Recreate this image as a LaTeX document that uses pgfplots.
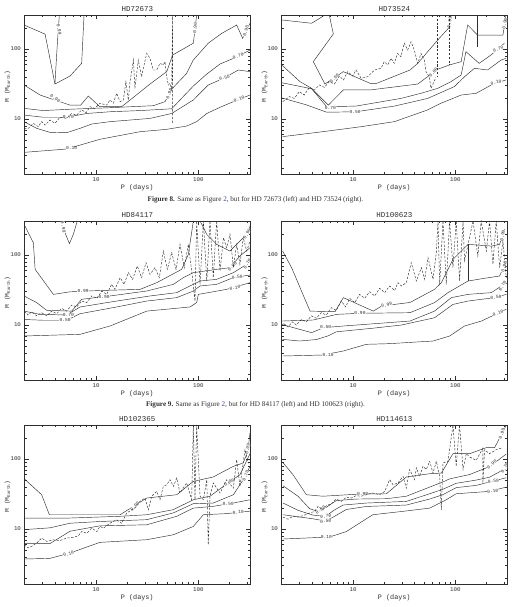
\documentclass[border=0pt]{standalone}
\usepackage{pgfplots}
\pgfplotsset{compat=1.18}
\usepackage{fontspec}
\setmainfont{Liberation Serif}
\newfontfamily\monof{Liberation Mono}
\definecolor{linkblue}{RGB}{45,65,200}
\colorlet{ink}{black!82}
\tikzset{
  cl/.style={line width=0.45pt, color=ink, mark=none, solid},
  dl/.style={line width=0.45pt, color=ink, mark=none, dash pattern=on 2.3pt off 1.5pt},
  lab/.style={font=\monof\fontsize{4.6}{5}\selectfont, text=ink, fill=white, inner sep=0.3pt},
}
\begin{document}
\begin{tikzpicture}
\useasboundingbox (0pt,0pt) rectangle (511pt,-607pt);

% ---------------- HD72673 ----------------
\begin{axis}[xmode=log, ymode=log, scale only axis, width=225.5pt, height=159pt,
    xmin=2, xmax=320, ymin=1.64, ymax=306,
    xtick={10,100}, xticklabels={10,100}, ytick={10,100}, yticklabels={10,100},
    minor xtick={3,4,5,6,7,8,9,20,30,40,50,60,70,80,90,200,300},
    minor ytick={2,3,4,5,6,7,8,9,20,30,40,50,60,70,80,90,200,300},
    xtick pos=both, ytick pos=both, xticklabel pos=lower, yticklabel pos=left,
    tick align=inside, major tick length=4.5pt, minor tick length=2.2pt,
    tick style={line width=0.4pt, color=ink}, axis line style={line width=0.5pt, color=ink},
    tick label style={font=\monof\fontsize{5.8}{6}\selectfont, text=ink},
    xlabel={P (days)}, ylabel={M (M\raisebox{-0.35ex}{\fontsize{4.3}{5}\selectfont Earth})},
    title style={at={(0.5,1)}, anchor=south, inner sep=0pt, yshift=-2.7pt, font=\monof\fontsize{7.5}{8}\selectfont, text=ink},
    xlabel style={at={(0.5,0)}, anchor=north, inner sep=0pt, yshift=-10.5pt, font=\monof\fontsize{6.8}{7}\selectfont, text=ink},
    ylabel style={at={(axis description cs:-0.0754,0.55)}, rotate=0, anchor=center, inner sep=0pt, font=\monof\fontsize{6.2}{7}\selectfont, text=ink},
    at={(24.5pt,-174pt)}, anchor=south west, title={HD72673}]
\addplot[cl] coordinates {(1.98,220) (3.18,163) (3.97,31.6) (5.57,41.1) (7.24,62.4) (7.64,306)};
\addplot[cl] coordinates {(4.38,306) (4.19,121) (3.97,32.3)};
\addplot[cl] coordinates {(1.98,30.6) (2.84,22.0) (5.57,15.8) (7.08,15.8) (8.41,21.3) (10.9,15.0) (17.8,15.0) (23.2,20.4) (33.7,31.6) (49.1,47.5) (56.1,82.0) (89.4,121) (96.3,306)};
\addplot[cl] coordinates {(1.98,14.2) (3.05,13.2) (5.57,13.8) (13.7,14.5) (36.3,15.5) (47.2,17.7) (57.0,28.3) (76.9,44.9) (89.4,69.6) (125,121) (169,167) (237,220) (271,142) (320,233)};
\addplot[cl] coordinates {(1.98,11.4) (3.05,10.6) (5.16,10.6) (8.11,12.0) (13.7,12.7) (26.9,13.2) (54.9,14.0) (66.2,18.7) (89.4,29.6) (121,43.9) (163,61.0) (233,76.0) (320,96.8)};
\addplot[cl] coordinates {(1.98,9.17) (2.63,7.36) (3.55,6.45) (5.16,6.38) (6.98,7.36) (9.08,8.48) (13.7,9.17) (33.7,10.2) (54.9,12.0) (89.4,18.7) (125,30.6) (176,38.1) (246,50.1) (320,47.5)};
\addplot[cl] coordinates {(1.98,3.34) (5.16,3.73) (10.9,5.13) (26.9,6.59) (49.1,7.12) (76.9,7.94) (96.3,9.17) (121,12.0) (163,14.7) (220,17.7) (320,22.0)};
\node[lab,rotate=-80] at (axis cs:4.35,190) {0.99};
\node[lab,rotate=-35] at (axis cs:4.0,19.5) {0.90};
\node[lab] at (axis cs:5.37,10.6) {0.70};
\node[lab] at (axis cs:5.78,3.8) {0.10};
\node[lab,rotate=70] at (axis cs:52,23) {0.90};
\node[lab,rotate=85] at (axis cs:93,200) {0.90};
\node[lab,rotate=75] at (axis cs:292,180) {0.90};
\node[lab,rotate=20] at (axis cs:245,80) {0.70};
\node[lab,rotate=15] at (axis cs:180,39) {0.50};
\node[lab,rotate=20] at (axis cs:250,19) {0.10};
\addplot[dl] coordinates {(1.98,7.36) (2.18,7.36) (2.44,8.67) (2.73,7.77) (2.94,9.17) (3.18,8.2) (3.55,9.68) (3.97,8.67) (4.45,10.6) (5.16,10.2) (5.78,12.0) (6.47,11.4) (7.24,13.5) (8.0,12.3) (8.73,15.0) (9.77,14.2) (10.9,16.8) (12.7,15.8) (13.7,18.7) (14.8,16.8) (15.9,23.3) (17.2,17.7) (18.5,18.7) (19.6,34.2) (20.7,18.7) (21.5,34.2) (23.2,69.6) (24.0,27.4) (25.9,69.6) (27.9,40.2) (29.0,53.0) (31.3,86.7) (33.7,73.6) (36.3,50.1) (39.2,50.1) (42.2,62.4) (45.5,59.1) (47.2,65.9) (49.1,40.2) (50.9,30.6) (52.9,32.3) (54.9,26.0) (56.1,306) (56.1,8.67)};
\end{axis}

% ---------------- HD73524 ----------------
\begin{axis}[xmode=log, ymode=log, scale only axis, width=225.5pt, height=159pt,
    xmin=2, xmax=320, ymin=1.64, ymax=306,
    xtick={10,100}, xticklabels={10,100}, ytick={10,100}, yticklabels={10,100},
    minor xtick={3,4,5,6,7,8,9,20,30,40,50,60,70,80,90,200,300},
    minor ytick={2,3,4,5,6,7,8,9,20,30,40,50,60,70,80,90,200,300},
    xtick pos=both, ytick pos=both, xticklabel pos=lower, yticklabel pos=left,
    tick align=inside, major tick length=4.5pt, minor tick length=2.2pt,
    tick style={line width=0.4pt, color=ink}, axis line style={line width=0.5pt, color=ink},
    tick label style={font=\monof\fontsize{5.8}{6}\selectfont, text=ink},
    xlabel={P (days)}, ylabel={M (M\raisebox{-0.35ex}{\fontsize{4.3}{5}\selectfont Earth})},
    title style={at={(0.5,1)}, anchor=south, inner sep=0pt, yshift=-2.7pt, font=\monof\fontsize{7.5}{8}\selectfont, text=ink},
    xlabel style={at={(0.5,0)}, anchor=north, inner sep=0pt, yshift=-10.5pt, font=\monof\fontsize{6.8}{7}\selectfont, text=ink},
    ylabel style={at={(axis description cs:-0.0754,0.55)}, rotate=0, anchor=center, inner sep=0pt, font=\monof\fontsize{6.2}{7}\selectfont, text=ink},
    at={(281.5pt,-174pt)}, anchor=south west, title={HD73524}]
\addplot[cl] coordinates {(2.0,260) (3.94,233) (5.32,306)};
\addplot[cl] coordinates {(5.86,306) (6.42,164) (4.09,65.9) (5.32,31.6) (8.04,47.5) (14.7,32.3) (17.0,32.3) (36.1,50.1) (42.9,62.4) (67.2,134) (85.4,197) (90.8,306)};
\addplot[cl] coordinates {(2.01,59.2) (3.03,34.2) (3.94,27.4) (5.74,15.8) (8.04,26.0) (14.7,26.0) (36.1,30.6) (42.9,31.6) (67.2,51.3) (87.4,59.1) (114,65.9) (132,220) (165,158) (292,158) (313,306)};
\addplot[cl] coordinates {(165,306) (165,108)};
\addplot[cl] coordinates {(2.01,33.0) (3.94,27.0) (5.53,15.0) (10.7,15.3) (29.4,19.7) (46.2,23.3) (67.2,27.4) (90.8,34.2) (114,42.5) (127,91.6) (171,62.4) (223,82.0) (302,121)};
\addplot[cl] coordinates {(2.01,20.0) (3.47,16.0) (5.53,12.5) (10.7,12.7) (25.4,15.3) (53.7,19.7) (97.7,29.0) (123,40.2) (154,53.0) (207,50.1) (280,69.6) (313,73.6)};
\addplot[cl] coordinates {(2.05,5.60) (5.05,6.59) (12.0,7.77) (25.4,9.17) (53.7,13.5) (72.4,16.8) (114,22.0) (160,23.3) (240,32.3) (313,36.1)};
\node[lab,rotate=45] at (axis cs:6.6,38) {0.99};
\node[lab] at (axis cs:6.0,14.3) {0.70};
\node[lab] at (axis cs:10.5,12.7) {0.50};
\node[lab,rotate=80] at (axis cs:88,240) {0.99};
\node[lab,rotate=50] at (axis cs:61,46) {0.90};
\node[lab,rotate=80] at (axis cs:305,230) {0.90};
\node[lab,rotate=25] at (axis cs:262,100) {0.70};
\node[lab,rotate=15] at (axis cs:250,33.5) {0.10};
\addplot[dl] coordinates {(2.06,17.7) (2.39,20.9) (2.67,19.7) (2.99,24.6) (3.34,22.0) (3.74,28.3) (4.19,26.0) (4.69,30.6) (5.25,28.3) (5.87,34.2) (6.58,31.6) (7.35,41.1) (8.05,36.1) (8.87,47.5) (9.93,41.1) (10.7,50.1) (12.0,38.1) (13.9,40.2) (16.2,50.1) (18.8,53.0) (20.2,65.9) (21.8,59.1) (23.5,73.6) (25.3,62.4) (27.3,86.7) (29.4,77.7) (31.7,121) (34.2,96.8) (36.9,127) (39.7,96.8) (42.9,62.4) (46.2,86.7) (49.8,69.6) (51.7,47.5) (55.7,40.2) (57.8,27.4) (64.7,39.4)};
\addplot[dl] coordinates {(67.2,306) (67.2,39.4)};
\addplot[dl] coordinates {(88.1,306) (88.1,59.1)};
\end{axis}

\node[font=\fontsize{7.15}{9}\selectfont, text=ink] at (255.5pt,-200pt) {\textbf{Figure 8.} Same as Figure \textcolor{linkblue}{2}, but for HD 72673 (left) and HD 73524 (right).};

% ---------------- HD84117 ----------------
\begin{axis}[xmode=log, ymode=log, scale only axis, width=225.5pt, height=159pt,
    xmin=2, xmax=320, ymin=1.64, ymax=306,
    xtick={10,100}, xticklabels={10,100}, ytick={10,100}, yticklabels={10,100},
    minor xtick={3,4,5,6,7,8,9,20,30,40,50,60,70,80,90,200,300},
    minor ytick={2,3,4,5,6,7,8,9,20,30,40,50,60,70,80,90,200,300},
    xtick pos=both, ytick pos=both, xticklabel pos=lower, yticklabel pos=left,
    tick align=inside, major tick length=4.5pt, minor tick length=2.2pt,
    tick style={line width=0.4pt, color=ink}, axis line style={line width=0.5pt, color=ink},
    tick label style={font=\monof\fontsize{5.8}{6}\selectfont, text=ink},
    xlabel={P (days)}, ylabel={M (M\raisebox{-0.35ex}{\fontsize{4.3}{5}\selectfont Earth})},
    title style={at={(0.5,1)}, anchor=south, inner sep=0pt, yshift=-2.7pt, font=\monof\fontsize{7.5}{8}\selectfont, text=ink},
    xlabel style={at={(0.5,0)}, anchor=north, inner sep=0pt, yshift=-10.5pt, font=\monof\fontsize{6.8}{7}\selectfont, text=ink},
    ylabel style={at={(axis description cs:-0.0754,0.55)}, rotate=0, anchor=center, inner sep=0pt, font=\monof\fontsize{6.2}{7}\selectfont, text=ink},
    at={(24.5pt,-380pt)}, anchor=south west, title={HD84117}]
\addplot[cl] coordinates {(4.61,306) (4.98,208) (5.49,145) (6.0,197) (6.56,306)};
\addplot[cl] coordinates {(2.02,259) (2.44,150) (2.54,62.4) (3.83,27.4) (5.57,29.8) (10.9,31.1) (26.9,32.3) (39.2,40.2) (68.8,62.4) (79.9,102) (89.4,306)};
\addplot[cl] coordinates {(104,306) (121,197) (151,142) (204,114) (255,158) (308,208) (320,259)};
\addplot[cl] coordinates {(1.98,26.0) (2.63,20.9) (3.30,16.2) (5.78,15.8) (7.24,23.3) (13.7,26.0) (31.3,30.6) (57.0,38.1) (71.4,47.5) (89.4,55.9) (151,62.4) (204,65.9) (255,96.8) (320,127)};
\addplot[cl] coordinates {(1.98,15.8) (2.84,14.2) (5.16,13.9) (6.98,18.1) (15.9,22.0) (33.7,26.0) (61.5,29.0) (82.9,36.1) (104,42.5) (151,44.9) (220,55.9) (297,73.6) (320,77.7)};
\addplot[cl] coordinates {(1.98,12.0) (3.05,11.7) (5.16,11.7) (6.98,14.5) (15.9,18.1) (31.3,22.0) (61.5,24.6) (89.4,30.6) (104,36.1) (151,38.1) (220,47.5) (320,51.8)};
\addplot[cl] coordinates {(1.98,6.97) (6.98,7.36) (13.7,9.68) (31.3,15.8) (82.9,18.1) (96.3,20.9) (100,27.4) (125,29.0) (189,32.3) (320,40.2)};
\node[lab,rotate=-80] at (axis cs:4.8,250) {0.99};
\node[lab] at (axis cs:7.5,30.5) {0.99};
\node[lab] at (axis cs:12,25.5) {0.90};
\node[lab] at (axis cs:5.37,13.9) {0.70};
\node[lab] at (axis cs:5.0,11.7) {0.50};
\node[lab,rotate=60] at (axis cs:300,200) {0.99};
\node[lab,rotate=45] at (axis cs:215,68) {0.90};
\node[lab,rotate=60] at (axis cs:302,75) {0.70};
\node[lab,rotate=10] at (axis cs:240,48.5) {0.50};
\node[lab,rotate=10] at (axis cs:228,34) {0.10};
\addplot[dl] coordinates {(1.98,15.8) (2.18,13.9) (2.35,15.5) (2.63,13.5) (2.94,15.0) (3.30,13.5) (3.69,15.8) (4.13,14.5) (4.61,17.3) (5.16,15.8) (5.78,19.3) (6.47,18.1) (7.24,22.0) (8.11,20.9) (9.08,26.0) (10.2,24.1) (11.4,30.6) (12.7,27.4) (14.2,38.1) (15.3,32.3) (17.2,47.5) (18.8,38.1) (20.7,55.9) (22.8,44.9) (25.3,69.6) (27.9,47.5) (30.8,77.7) (33.7,53.0) (37.7,65.9) (41.6,47.5) (45.5,114) (49.8,62.4) (54.9,108) (60.6,62.4) (66.2,142) (72.9,65.9) (79.9,142) (86.1,59.1) (92.8,22.0) (96.3,306) (104,38.1) (112,306) (121,42.5) (130,306) (140,47.5) (151,306) (163,59.1) (176,177) (189,127) (204,197) (220,65.9) (237,142) (255,73.6) (275,177) (297,114) (320,158)};
\end{axis}

% ---------------- HD100623 ----------------
\begin{axis}[xmode=log, ymode=log, scale only axis, width=225.5pt, height=159pt,
    xmin=2, xmax=320, ymin=1.64, ymax=306,
    xtick={10,100}, xticklabels={10,100}, ytick={10,100}, yticklabels={10,100},
    minor xtick={3,4,5,6,7,8,9,20,30,40,50,60,70,80,90,200,300},
    minor ytick={2,3,4,5,6,7,8,9,20,30,40,50,60,70,80,90,200,300},
    xtick pos=both, ytick pos=both, xticklabel pos=lower, yticklabel pos=left,
    tick align=inside, major tick length=4.5pt, minor tick length=2.2pt,
    tick style={line width=0.4pt, color=ink}, axis line style={line width=0.5pt, color=ink},
    tick label style={font=\monof\fontsize{5.8}{6}\selectfont, text=ink},
    xlabel={P (days)}, ylabel={M (M\raisebox{-0.35ex}{\fontsize{4.3}{5}\selectfont Earth})},
    title style={at={(0.5,1)}, anchor=south, inner sep=0pt, yshift=-2.7pt, font=\monof\fontsize{7.5}{8}\selectfont, text=ink},
    xlabel style={at={(0.5,0)}, anchor=north, inner sep=0pt, yshift=-10.5pt, font=\monof\fontsize{6.8}{7}\selectfont, text=ink},
    ylabel style={at={(axis description cs:-0.0754,0.55)}, rotate=0, anchor=center, inner sep=0pt, font=\monof\fontsize{6.2}{7}\selectfont, text=ink},
    at={(281.5pt,-380pt)}, anchor=south west, title={HD100623}]
\addplot[cl] coordinates {(2.05,114) (2.51,65.9) (3.80,15.8) (6.67,15.5) (8.04,24.6) (15.8,15.8) (19.1,18.7) (36.1,21.0) (62.6,32.3) (72.9,40.2) (94.9,86.7) (133,142) (225,134) (271,142) (303,233)};
\addplot[cl] coordinates {(133,142) (133,42.5)};
\addplot[cl] coordinates {(2.01,11.4) (4.09,11.8) (6.92,14.2) (11.7,14.7) (36.1,15.0) (62.6,20.9) (84.8,29.0) (133,42.5) (193,46.5) (271,50.1) (315,82.0)};
\addplot[cl] coordinates {(2.01,10.2) (3.94,7.78) (5.13,9.16) (8.04,9.68) (36.1,11.4) (62.6,15.8) (91.4,24.6) (133,27.4) (225,29.0) (315,40.2)};
\addplot[cl] coordinates {(2.05,6.24) (3.00,5.91) (4.38,6.2) (5.70,7.0) (6.87,8.0) (15.6,9.0) (29.7,10.0) (62.6,12.7) (94.9,19.7) (133,22.0) (242,24.6) (315,27.4)};
\addplot[cl] coordinates {(2.05,3.61) (5.07,3.73) (8.0,4.25) (13.5,5.30) (22.8,5.42) (60.6,5.91) (88.1,6.97) (123,9.68) (180,11.4) (315,16.8)};
\node[lab] at (axis cs:11.7,14.7) {0.90};
\node[lab] at (axis cs:5.4,9.3) {0.50};
\node[lab] at (axis cs:5.7,3.75) {0.10};
\node[lab,rotate=15] at (axis cs:21.3,19.3) {0.99};
\node[lab,rotate=80] at (axis cs:290,190) {0.99};
\node[lab,rotate=75] at (axis cs:300,68) {0.90};
\node[lab,rotate=60] at (axis cs:290,36) {0.70};
\node[lab,rotate=5] at (axis cs:250,24.8) {0.50};
\node[lab,rotate=20] at (axis cs:262,14.8) {0.10};
\addplot[dl] coordinates {(2.10,10.5) (2.32,9.36) (2.55,11.1) (2.79,10.0) (3.13,12.0) (3.50,11.1) (3.91,13.5) (4.38,12.5) (4.90,15.0) (5.48,13.9) (6.14,17.7) (6.87,16.2) (7.69,22.0) (8.47,18.1) (9.27,24.1) (10.4,20.9) (11.6,27.4) (13.0,24.1) (14.5,29.8) (16.3,26.0) (18.2,33.5) (20.4,29.0) (22.8,36.1) (25.5,31.1) (27.5,40.2) (29.7,36.1) (33.2,40.2) (37.1,77.7) (41.6,42.5) (46.6,65.9) (50.2,44.9) (54.1,91.6) (60.5,44.9) (65.2,108) (67.7,306) (70.3,38.1) (75.7,306) (81.6,38.1) (87.9,306) (94.8,65.9) (102,306) (110,42.5) (119,306) (123,82.0) (149,306) (166,96.8) (179,306) (201,114) (216,306) (233,73.6) (251,306) (271,65.9) (292,158) (315,47.5)};
\end{axis}

\node[font=\fontsize{7.15}{9}\selectfont, text=ink] at (255.5pt,-405pt) {\textbf{Figure 9.} Same as Figure \textcolor{linkblue}{2}, but for HD 84117 (left) and HD 100623 (right).};

% ---------------- HD102365 ----------------
\begin{axis}[xmode=log, ymode=log, scale only axis, width=225.5pt, height=159pt,
    xmin=2, xmax=320, ymin=1.64, ymax=306,
    xtick={10,100}, xticklabels={10,100}, ytick={10,100}, yticklabels={10,100},
    minor xtick={3,4,5,6,7,8,9,20,30,40,50,60,70,80,90,200,300},
    minor ytick={2,3,4,5,6,7,8,9,20,30,40,50,60,70,80,90,200,300},
    xtick pos=both, ytick pos=both, xticklabel pos=lower, yticklabel pos=left,
    tick align=inside, major tick length=4.5pt, minor tick length=2.2pt,
    tick style={line width=0.4pt, color=ink}, axis line style={line width=0.5pt, color=ink},
    tick label style={font=\monof\fontsize{5.8}{6}\selectfont, text=ink},
    xlabel={P (days)}, ylabel={M (M\raisebox{-0.35ex}{\fontsize{4.3}{5}\selectfont Earth})},
    title style={at={(0.5,1)}, anchor=south, inner sep=0pt, yshift=-2.7pt, font=\monof\fontsize{7.5}{8}\selectfont, text=ink},
    xlabel style={at={(0.5,0)}, anchor=north, inner sep=0pt, yshift=-10.5pt, font=\monof\fontsize{6.8}{7}\selectfont, text=ink},
    ylabel style={at={(axis description cs:-0.0754,0.55)}, rotate=0, anchor=center, inner sep=0pt, font=\monof\fontsize{6.2}{7}\selectfont, text=ink},
    at={(24.5pt,-584pt)}, anchor=south west, title={HD102365}]
\addplot[cl] coordinates {(1.98,52.4) (2.94,30.9) (3.50,16.0) (17.2,16.0) (31.3,27.7) (61.5,30.9) (89.4,47.9) (140,55.4) (220,78.6) (275,88) (305,130) (320,236)};
\addplot[cl] coordinates {(1.98,14.3) (5.16,14.3) (17.2,15.2) (31.3,16.0) (57.0,18.9) (89.4,26.2) (130,29.4) (176,40.6) (255,59.7) (320,119)};
\addplot[cl] coordinates {(1.98,9.8) (3.55,10.4) (5.57,12.1) (10.9,12.8) (31.3,13.6) (57.0,17.0) (89.4,23.0) (140,23.5) (220,30.9) (275,50.6) (320,78.6)};
\addplot[cl] coordinates {(1.98,6.2) (3.55,6.2) (5.57,9.3) (10.9,11.1) (31.3,11.5) (61.5,15.2) (89.4,19.9) (140,21.1) (220,23.5) (320,26.2)};
\addplot[cl] coordinates {(1.98,3.73) (3.55,3.81) (5.57,4.54) (10.9,6.45) (31.3,7.04) (57.0,8.28) (89.4,10.9) (112,16.0) (189,16.6) (320,18.0)};
\node[lab,rotate=20] at (axis cs:5.4,4.45) {0.10};
\node[lab,rotate=45] at (axis cs:24,21.2) {0.99};
\node[lab,rotate=30] at (axis cs:200,46) {0.90};
\node[lab,rotate=5] at (axis cs:196,22.8) {0.50};
\node[lab,rotate=5] at (axis cs:246,17.3) {0.10};
\node[lab,rotate=80] at (axis cs:303,140) {0.99};
\node[lab,rotate=70] at (axis cs:290,58) {0.70};
\addplot[dl] coordinates {(1.98,5.97) (2.18,5.38) (2.35,5.67) (2.63,6.31) (2.94,7.43) (3.30,6.66) (3.83,7.0) (4.45,6.86) (5.16,7.43) (6.0,7.59) (6.71,8.0) (7.24,9.2) (8.11,8.7) (9.08,10.3) (10.2,9.2) (10.9,10.9) (11.8,10.3) (13.7,12.1) (15.9,13.5) (17.8,12.1) (19.9,16.9) (22.3,18.8) (24.0,19.9) (26.9,24.8) (30.1,27.7) (32.5,18.8) (35.0,29.4) (39.2,34.5) (42.2,26.2) (45.5,40.6) (49.1,42.9) (52.9,50.6) (57.0,40.6) (61.5,53.5) (66.2,32.7) (76.9,45.5) (86.1,26.2) (89.4,306) (92.8,26.2) (96.3,306) (104,29.4) (112,26.2) (121,50.6) (125,5.97) (130,29.4) (140,45.5) (163,32.7) (189,50.6) (220,38.4) (237,98) (255,40.6) (286,136) (308,87)};
\end{axis}

% ---------------- HD114613 ----------------
\begin{axis}[xmode=log, ymode=log, scale only axis, width=225.5pt, height=159pt,
    xmin=2, xmax=320, ymin=1.64, ymax=306,
    xtick={10,100}, xticklabels={10,100}, ytick={10,100}, yticklabels={10,100},
    minor xtick={3,4,5,6,7,8,9,20,30,40,50,60,70,80,90,200,300},
    minor ytick={2,3,4,5,6,7,8,9,20,30,40,50,60,70,80,90,200,300},
    xtick pos=both, ytick pos=both, xticklabel pos=lower, yticklabel pos=left,
    tick align=inside, major tick length=4.5pt, minor tick length=2.2pt,
    tick style={line width=0.4pt, color=ink}, axis line style={line width=0.5pt, color=ink},
    tick label style={font=\monof\fontsize{5.8}{6}\selectfont, text=ink},
    xlabel={P (days)}, ylabel={M (M\raisebox{-0.35ex}{\fontsize{4.3}{5}\selectfont Earth})},
    title style={at={(0.5,1)}, anchor=south, inner sep=0pt, yshift=-2.7pt, font=\monof\fontsize{7.5}{8}\selectfont, text=ink},
    xlabel style={at={(0.5,0)}, anchor=north, inner sep=0pt, yshift=-10.5pt, font=\monof\fontsize{6.8}{7}\selectfont, text=ink},
    ylabel style={at={(axis description cs:-0.0754,0.55)}, rotate=0, anchor=center, inner sep=0pt, font=\monof\fontsize{6.2}{7}\selectfont, text=ink},
    at={(281.5pt,-584pt)}, anchor=south west, title={HD114613}]
\addplot[cl] coordinates {(2.07,88.6) (2.59,59.7) (3.50,30.9) (5.07,29.4) (11.6,31.6) (21.2,31.9) (33.2,55.4) (56.1,61.6) (73.0,62.9) (94.8,119) (138,119) (200,145) (242,145) (315,306)};
\addplot[cl] coordinates {(2.07,41.4) (2.90,29.4) (3.77,19.5) (4.6,17.8) (5.5,20.5) (6.87,25.5) (10.7,26.8) (21.2,27.1) (33.2,29.4) (56.1,39.7) (75.7,47) (87.9,52) (138,60) (216,78) (262,96) (315,118)};
\addplot[cl] coordinates {(2.07,23.5) (2.90,18.5) (4.06,15.8) (5.4,15.2) (6.5,18.5) (8.0,22.0) (13.5,23.5) (33.2,24.8) (56.1,31.9) (75.7,37) (102,45) (160,50) (216,55) (262,64) (315,75)};
\addplot[cl] coordinates {(2.07,16.0) (4.06,14.0) (5.4,13.0) (6.5,15.0) (8.6,19.0) (13.5,21.0) (33.2,22.0) (56.1,26.8) (75.7,31) (102,39) (160,42) (216,47) (315,54)};
\addplot[cl] coordinates {(2.07,7.2) (5.91,7.7) (8.6,9.2) (15.6,16.0) (30.9,17.9) (56.1,19.9) (81.6,26.2) (102,31.9) (216,34.5) (315,39.7)};
\node[lab] at (axis cs:12.4,31.6) {0.99};
\node[lab,rotate=35] at (axis cs:4.8,18.8) {0.90};
\node[lab,rotate=5] at (axis cs:5.4,15.2) {0.70};
\node[lab,rotate=5] at (axis cs:5.4,13.0) {0.50};
\node[lab] at (axis cs:5.5,7.6) {0.10};
\node[lab,rotate=70] at (axis cs:285,230) {0.99};
\node[lab,rotate=40] at (axis cs:228,84) {0.90};
\node[lab,rotate=60] at (axis cs:305,74) {0.70};
\node[lab,rotate=10] at (axis cs:235,48.5) {0.50};
\node[lab,rotate=5] at (axis cs:232,34.8) {0.10};
\addplot[dl] coordinates {(2.07,14.8) (2.32,13.8) (2.59,15.2) (2.90,14.8) (3.25,15.5) (3.77,16.9) (4.22,17.9) (4.55,21.1) (5.07,18.8) (5.48,21.5) (6.14,23.0) (6.87,26.8) (7.69,24.8) (8.6,28.6) (9.6,27.7) (10.7,29.9) (12.0,29.4) (13.5,30.9) (15.6,32.7) (18.2,30.9) (20.4,34.5) (22.8,50.6) (24.6,42.9) (27.5,45.5) (30.8,56.6) (33.2,38.4) (35.7,70.7) (40.0,50.6) (41.6,74.6) (44.8,56.6) (48.3,78.6) (52.0,70.7) (56.1,92.8) (60.5,62.9) (65.2,92.8) (70.3,56.6) (73.0,18.8) (75.7,88.0) (84.8,92.8) (94.8,306) (102,78.6) (110,306) (119,70.7) (128,119) (138,107) (160,96.0) (186,143) (186,45.5) (193,136) (216,119) (251,136) (281,143)};
\end{axis}
\end{tikzpicture}
\end{document}
